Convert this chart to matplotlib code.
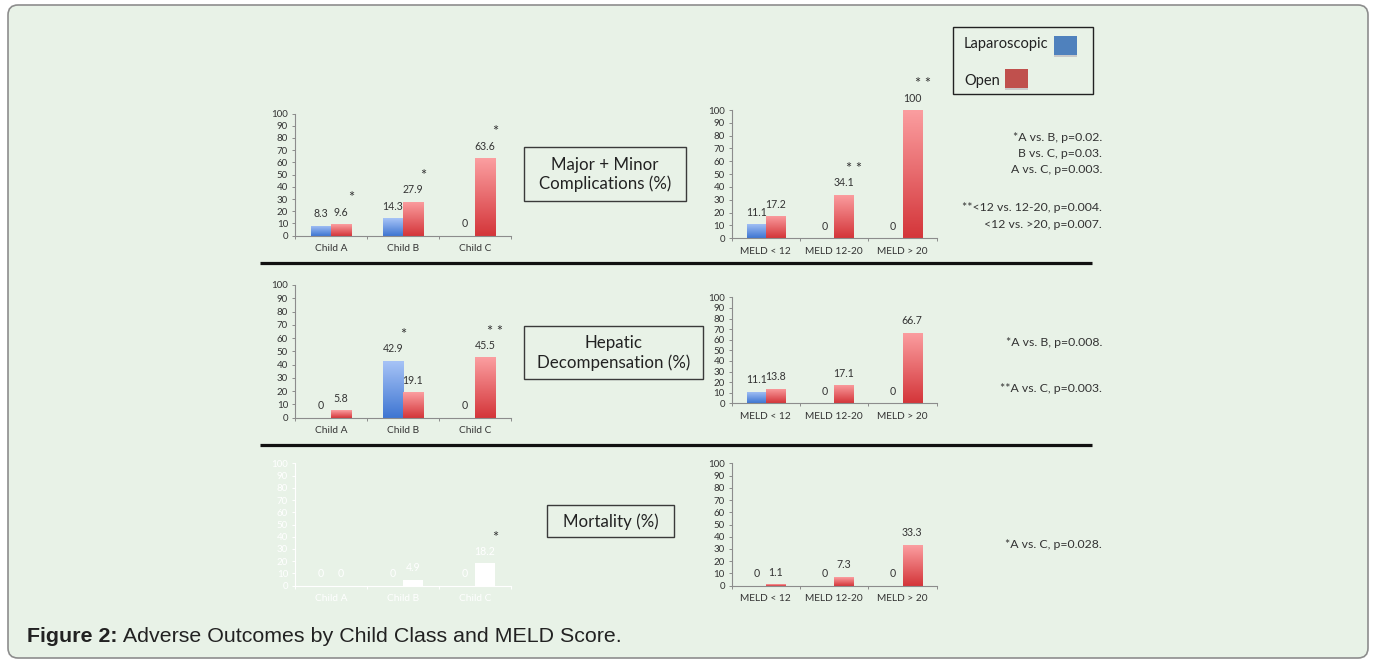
import numpy as np
import matplotlib
matplotlib.use('Agg')
import matplotlib.pyplot as plt
from matplotlib.colors import LinearSegmentedColormap
from matplotlib.patches import FancyBboxPatch, Rectangle

W, H = 1373, 660

# --- Data ---
child_cats = ['Child A', 'Child B', 'Child C']
meld_cats = ['MELD < 12', 'MELD 12-20', 'MELD > 20']

comp_child_lap = [8.3, 14.3, 0]
comp_child_open = [9.6, 27.9, 63.6]
comp_meld_lap = [11.1, 0, 0]
comp_meld_open = [17.2, 34.1, 100]

hep_child_lap = [0, 42.9, 0]
hep_child_open = [5.8, 19.1, 45.5]
hep_meld_lap = [11.1, 0, 0]
hep_meld_open = [13.8, 17.1, 66.7]

mort_child_lap = [0, 0, 0]
mort_child_open = [0, 4.9, 18.2]
mort_meld_lap = [0, 0, 0]
mort_meld_open = [1.1, 7.3, 33.3]

# significance marks: (category, series, mark)
comp_child_marks = [(0, 'open', '*'), (1, 'open', '*'), (2, 'open', '*')]
comp_meld_marks = [(1, 'open', '**'), (2, 'open', '**')]
hep_child_marks = [(1, 'lap', '*'), (2, 'open', '**')]
mort_child_marks = [(2, 'open', '*')]

comp_notes = ['*A vs. B, p=0.02.', 'B vs. C, p=0.03.', 'A vs. C, p=0.003.',
              '**<12 vs. 12-20, p=0.004.', '<12 vs. >20, p=0.007.']
hep_notes = ['*A vs. B, p=0.008.', '**A vs. C, p=0.003.']
mort_notes = ['*A vs. C, p=0.028.']

# --- Style ---
PANEL = '#e8f2e7'
TEXT = '#333333'
AXIS = '#8c8c8c'
FONT = 'Lato'
BW = 0.28

BLUE_MAP = LinearSegmentedColormap.from_list('lap', ['#3f76d2', '#a6c3f6'])
RED_MAP = LinearSegmentedColormap.from_list('open', ['#d4363a', '#fb9ea0'])

plt.rcParams['font.family'] = [FONT, 'DejaVu Sans']

fig = plt.figure(figsize=(W / 100, H / 100), dpi=100, facecolor='white')
bg = fig.add_axes([0, 0, 1, 1])
bg.set_xlim(0, W)
bg.set_ylim(H, 0)
bg.axis('off')

bg.add_patch(FancyBboxPatch((8, 5), 1360, 653,
                            boxstyle='round,pad=0,rounding_size=10',
                            fc=PANEL, ec='#8d8d8d', lw=1.2))


def shade(ax, bars, cmap):
    grad = np.linspace(0, 1, 64)[:, None]
    for b in bars:
        h = b.get_height()
        if h <= 0:
            continue
        x0 = b.get_x()
        im = ax.imshow(grad, extent=[x0, x0 + b.get_width(), 0, h],
                       origin='lower', aspect='auto', cmap=cmap,
                       vmin=0, vmax=1, zorder=2)
        im.set_clip_path(b)


def chart(px, cats, lap, opn, marks, faded=False):
    left, right, y0, y100 = px
    ax = fig.add_axes([left / W, 1 - y0 / H, (right - left) / W, (y0 - y100) / H])
    ax.patch.set_visible(False)
    fg = 'white' if faded else TEXT
    line = 'white' if faded else AXIS

    x = np.arange(len(cats)) + 0.5
    if faded:
        b_lap = ax.bar(x - BW / 2, lap, BW, color='white', zorder=2)
        b_open = ax.bar(x + BW / 2, opn, BW, color='white', zorder=2)
    else:
        b_lap = ax.bar(x - BW / 2, lap, BW, color='none', zorder=2)
        b_open = ax.bar(x + BW / 2, opn, BW, color='none', zorder=2)
        shade(ax, b_lap, BLUE_MAP)
        shade(ax, b_open, RED_MAP)

    ax.set_xlim(0, 3)
    ax.set_ylim(0, 100)

    for bars, vals in ((b_lap, lap), (b_open, opn)):
        for b, v in zip(bars, vals):
            ax.annotate(f'{v:g}', (b.get_x() + b.get_width() / 2, v),
                        xytext=(0, 8.6), textcoords='offset points',
                        ha='center', va='center', fontsize=7.6, color=fg)

    for i, series, mark in marks:
        b = (b_lap if series == 'lap' else b_open)[i]
        ax.annotate(' '.join(mark), (b.get_x() + b.get_width() / 2, b.get_height()),
                    xytext=(7.5, 13.5), textcoords='offset points',
                    ha='center', va='bottom', fontsize=10.5, color='#333333')

    for s in ('top', 'right'):
        ax.spines[s].set_visible(False)
    for s in ('left', 'bottom'):
        ax.spines[s].set_color(line)
        ax.spines[s].set_linewidth(0.8)

    ax.set_yticks(range(0, 101, 10))
    ax.tick_params(axis='y', length=2.5, width=0.7, color=line, pad=2.5,
                   labelsize=7, labelcolor=fg)
    ax.set_xticks(x)
    ax.set_xticklabels(cats)
    ax.set_xticks(np.arange(4), minor=True)
    ax.tick_params(axis='x', which='major', length=0, pad=6,
                   labelsize=7.3, labelcolor=fg)
    ax.tick_params(axis='x', which='minor', length=2.5, width=0.7, color=line)
    return ax


chart((295, 510.7, 235.7, 113.5), child_cats, comp_child_lap, comp_child_open,
      comp_child_marks)
chart((731.7, 936.7, 238.3, 110), meld_cats, comp_meld_lap, comp_meld_open,
      comp_meld_marks)
chart((295, 510.7, 417.7, 285), child_cats, hep_child_lap, hep_child_open,
      hep_child_marks)
chart((731.7, 936.7, 403.3, 297.3), meld_cats, hep_meld_lap, hep_meld_open, [])
chart((295, 510.7, 585.7, 463.3), child_cats, mort_child_lap, mort_child_open,
      mort_child_marks, faded=True)
chart((731.7, 936.7, 585.7, 463.3), meld_cats, mort_meld_lap, mort_meld_open, [])

# section separators
for y in (263, 445):
    bg.plot([260, 1092], [y, y], color='#111111', lw=2.3, solid_capstyle='butt')

# outcome title boxes
for x0, x1, y0, y1, label in ((524, 686, 147, 201, 'Major + Minor\nComplications (%)'),
                              (524, 703, 326, 379, 'Hepatic\nDecompensation (%)'),
                              (547, 674, 505, 537, 'Mortality (%)')):
    bg.add_patch(Rectangle((x0, y0), x1 - x0, y1 - y0, fc='none',
                           ec='#3a3a3a', lw=1))
    bg.text((x0 + x1) / 2, (y0 + y1) / 2 + 0.5, label, ha='center', va='center',
            fontsize=12.2, color='#222222', linespacing=1.25)

# p-value notes
for ys, notes in (((137.3, 153.3, 169.3, 207.7, 224), comp_notes),
                  ((343, 389), hep_notes),
                  ((545,), mort_notes)):
    for y, t in zip(ys, notes):
        bg.text(1102, y, t, ha='right', va='center', fontsize=8.8, color=TEXT)

# legend
bg.add_patch(Rectangle((953, 27), 140, 67, fc='none', ec='#222222', lw=1))
bg.text(964, 44, 'Laparoscopic', ha='left', va='center', fontsize=10.5,
        color='#222222')
bg.text(964, 81, 'Open', ha='left', va='center', fontsize=10.5, color='#222222')
for x0, y0, c in ((1054, 36, '#4f81bd'), (1005, 69, '#c0504d')):
    bg.add_patch(Rectangle((x0, y0 + 2), 23, 19, fc='#c9c9c9', ec='none'))
    bg.add_patch(Rectangle((x0, y0), 23, 19, fc=c, ec='none'))

# caption
cap = bg.text(27, 637, 'Figure 2:', ha='left', va='center', fontsize=15.4,
              fontweight='bold', color='#222222', family='Liberation Sans')
bg.annotate(' Adverse Outcomes by Child Class and MELD Score.', xy=(1, 0),
            xycoords=cap, ha='left', va='bottom', fontsize=15.4,
            color='#222222', family='Liberation Sans')

fig.savefig('out.png', dpi=100, facecolor='white')
